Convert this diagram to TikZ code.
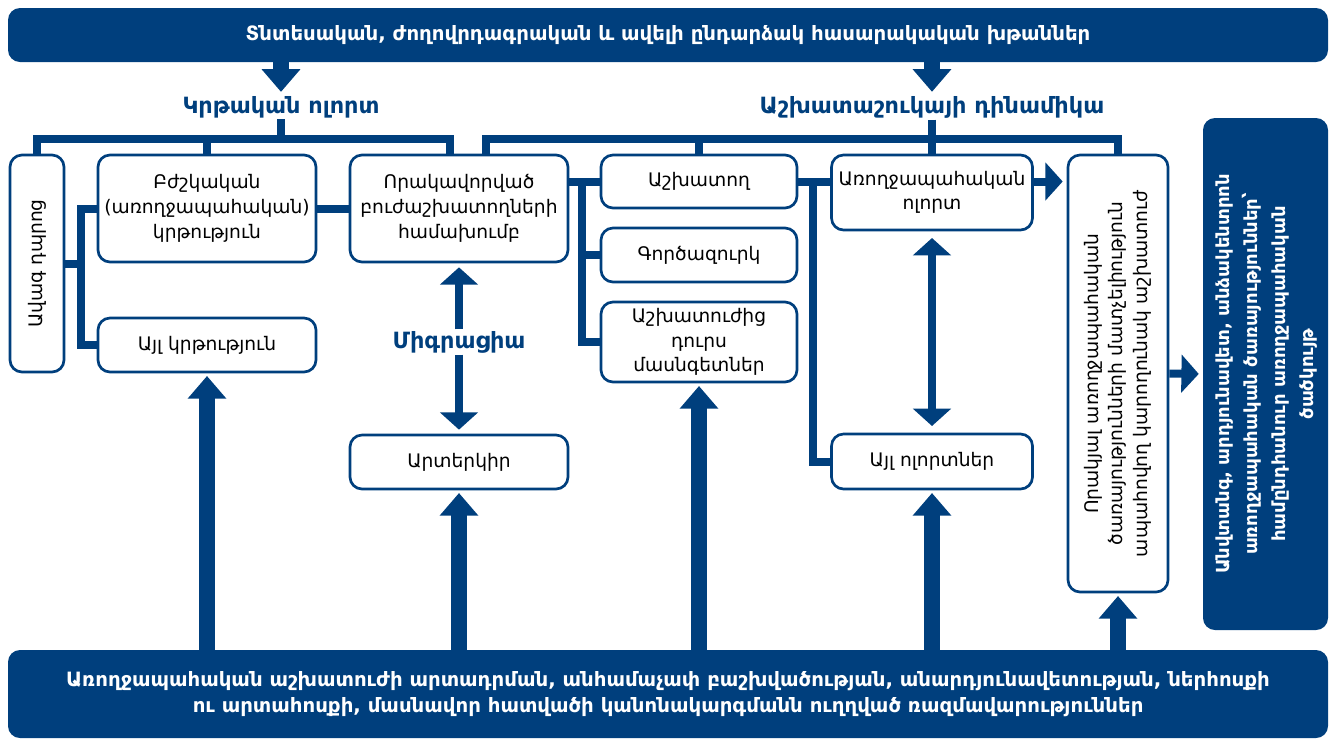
\documentclass[tikz,border=0pt]{standalone}
\usepackage{fontspec}
\setmainfont{DejaVu Sans}
\usetikzlibrary{arrows.meta}
\usetikzlibrary{calc}
\definecolor{hlmblue}{RGB}{0,63,125}

\tikzset{
  sz/.style 2 args={minimum width=#1*0.75pt, minimum height=#2*0.75pt},
  box/.style={draw=hlmblue, line width=2pt, rounded corners=9pt, fill=white, align=center, inner sep=1pt, font=\fontsize{14}{18.5}\selectfont},
  bar/.style={fill=hlmblue, rounded corners=9pt, text=white, align=center, inner sep=1pt, font=\bfseries\fontsize{14.8}{19.5}\selectfont},
  sidebar/.style={bar, font=\bfseries\fontsize{13.5}{21}\selectfont},
  head/.style={text=hlmblue, inner sep=1pt, font=\bfseries\fontsize{16.8}{20}\selectfont},
  link/.style={draw=hlmblue, line width=6pt},
  bigarrow/.style={draw=hlmblue, line width=12pt, shorten >=2pt, -{Triangle[width=28pt,length=17pt]}},
  midarrow/.style={draw=hlmblue, line width=6pt, shorten >=3pt, -{Triangle[width=28pt,length=13pt]}},
  dblarrow/.style={draw=hlmblue, line width=6pt, shorten >=5pt, shorten <=5pt, {Triangle[width=28pt,length=13pt]}-{Triangle[width=28pt,length=13pt]}},
}

\begin{document}
\begin{tikzpicture}[x=0.75pt,y=0.75pt,yscale=-1]
\useasboundingbox (0,0) rectangle (1335,740);

% bars
\node[bar, sz={1320}{54}] (drivers) at (668,35) {Տնտեսական, ժողովրդագրական և ավելի ընդարձակ հասարակական խթաններ};
\node[bar, sz={1320}{88}] (policy) at (668,694) {Առողջապահական աշխատուժի արտադրման, անհամաչափ բաշխվածության, անարդյունավետության, ներհոսքի\\ու արտահոսքի, մասնավոր հատվածի կանոնակարգմանն ուղղված ռազմավարություններ};

% headings
\node[head] (edu) at (281,107) {Կրթական ոլորտ};
\node[head] (lab) at (932,107) {Աշխատաշուկայի դինամիկա};

% education sector
\node[box, sz={54}{217}] (school) at (37,263.5) {\rotatebox{90}{Ավագ դպրոց}};
\node[box, sz={218}{107}] (medu) at (207,208.5) {Բժշկական\\(առողջապահական)\\կրթություն};
\node[box, sz={218}{54}] (othedu) at (207,345) {Այլ կրթություն};
\node[box, sz={218}{107}] (pool) at (459,208.5) {Որակավորված\\բուժաշխատողների\\համախումբ};
\node[head] (migr) at (459,342) {Միգրացիա};
\node[box, sz={218}{54}] (abroad) at (459,462) {Արտերկիր};

% labour market
\node[box, sz={196}{53}] (empl) at (699,181.5) {Աշխատող};
\node[box, sz={196}{54}] (unempl) at (699,255) {Գործազուրկ};
\node[box, sz={196}{80}] (outlf) at (699,342) {Աշխատուժից\\դուրս\\մասնգետներ};
\node[box, sz={201}{75}] (hsec) at (932,192.5) {Առողջապահական\\ոլորտ};
\node[box, sz={201}{55}] (osec) at (932,461.5) {Այլ ոլորտներ};

% outputs
\node[box, sz={100}{437}] (hwf) at (1118,373.5) {\rotatebox{90}{\begin{tabular}{@{}c@{}}Որակյալ առողջապահական\\ծառայությունների մատչելիություն\\ապահովող կարողունակ աշխատուժ\end{tabular}}};
\node[sidebar, sz={125}{512}] (uhc) at (1265.5,374) {\rotatebox{90}{\begin{tabular}{@{}c@{}}Անվտանգ, արդյունավետ, անձակենտրոն\\առողջապահական ծառայություններ՝\\համընդհանուր առողջապահական\\ծածկույթ\end{tabular}}};

% brackets
\draw[link] (school.north) -- ++(0,-15) coordinate (eb) -| ($(pool.north)+(-9,0)$);
\draw[link] (medu.north) -- (medu.north |- eb);
\draw[link] (edu.south) -- (edu.south |- eb);
\draw[link] ($(pool.north)+(27,0)$) -- ++(0,-15) coordinate (lb) -| (hwf.north);
\draw[link] (empl.north) -- (empl.north |- lb);
\draw[link] (lab.south) -- (hsec.north);

% drivers
\draw[bigarrow] (drivers.south -| edu.north) -- (edu.north);
\draw[bigarrow] (drivers.south -| lab.north) -- (lab.north);

% education links
\draw[link] (medu.west) -- ++(-16,0) coordinate (es) |- (othedu.west);
\draw[link] (school.east) -- (school.east -| es);
\draw[link] (medu) -- (pool);

% labour links
\path (empl.west) ++(-18,0) coordinate (ls);
\draw[link] (pool.east |- empl.west) -- (empl.west);
\draw[link] (ls) |- (outlf.west);
\draw[link] (unempl.west) -- (unempl.west -| ls);
\draw[link] (empl.east) -- (empl.east -| hsec.west);
\path (empl.east) ++(15,0) coordinate (ss);
\draw[link] (ss) |- (osec.west);
\draw[midarrow] (hsec.east |- empl.east) -- (hwf.west |- empl.east);
\draw[dblarrow] (hsec.south) -- (osec.north);

% migration
\draw[midarrow] (migr.north) -- (pool.south);
\draw[midarrow] (migr.south) -- (abroad.north);

% outputs
\draw[midarrow] (hwf.east) -- (uhc.west);

% policies
\foreach \t in {othedu,abroad,outlf,osec,hwf}
  \draw[bigarrow] (policy.north -| \t.south) -- (\t.south);

\end{tikzpicture}
\end{document}
